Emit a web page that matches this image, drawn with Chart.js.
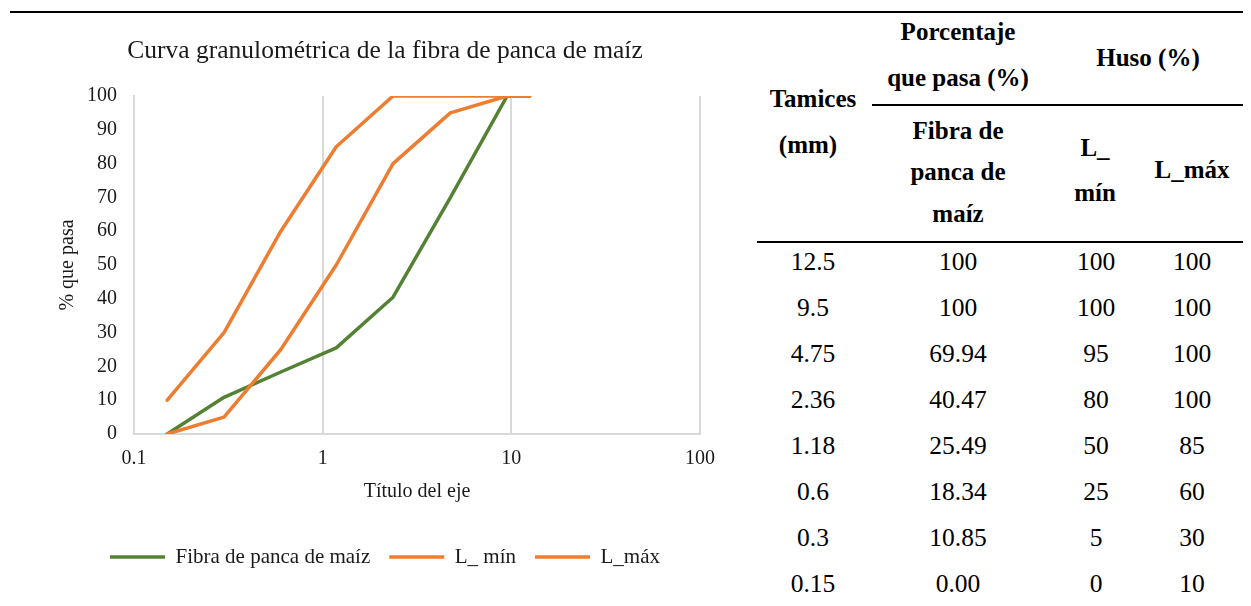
<!DOCTYPE html>
<html lang="es">
<head>
<meta charset="utf-8">
<title>Curva granulométrica de la fibra de panca de maíz</title>
<script src="https://cdn.jsdelivr.net/npm/chart.js@4/dist/chart.umd.min.js"></script>
<style>
  html, body { margin: 0; padding: 0; background: #fff; }
  body {
    width: 1251px; height: 606px; position: relative; overflow: hidden;
    font-family: "Liberation Serif", "Times New Roman", serif; color: #000;
  }
  #grafico { position: absolute; left: 0; top: 0; width: 745px; height: 606px; }
  .rule { position: absolute; height: 2px; background: #000; }
  .t { position: absolute; white-space: nowrap; line-height: 1; transform: translate(-50%, -50%); }
  .h { font-size: 25px; font-weight: bold; }
  .d { font-size: 25.5px; }
</style>
</head>
<body>
<div id="grafico"><canvas id="curva"></canvas></div>
<div id="tabla"></div>

<script>
// datos de la curva granulométrica
const tamices = [0.15, 0.3, 0.6, 1.18, 2.36, 4.75, 9.5, 12.5];
const fibra = [0, 10.85, 18.34, 25.49, 40.47, 69.94, 100, 100];
const lMin = [0, 5, 25, 50, 80, 95, 100, 100];
const lMax = [10, 30, 60, 85, 100, 100, 100, 100];
const xTicks = [0.1, 1, 10, 100];
const nombres = ["Fibra de panca de maíz", "L_ mín", "L_máx"];
const colores = ["#548235", "#ED7D31", "#ED7D31"];

const FUENTE = "'Liberation Serif', 'Times New Roman', serif";
const TEXTO = "#1a1a1a";

// tabla de la derecha
const tabla = document.getElementById("tabla");
function texto(cls, x, y, t) {
  const d = document.createElement("div");
  d.className = "t " + cls;
  d.style.left = x + "px";
  d.style.top = y + "px";
  d.textContent = t;
  tabla.appendChild(d);
}
function regla(x, y, w) {
  const d = document.createElement("div");
  d.className = "rule";
  d.style.left = x + "px";
  d.style.top = y + "px";
  d.style.width = w + "px";
  tabla.appendChild(d);
}

const colX = [813, 958, 1096, 1192];

regla(10, 11, 1233);
regla(872, 104, 371);
regla(757, 241, 486);

texto("h", 958, 31, "Porcentaje");
texto("h", 958, 77, "que pasa (%)");
texto("h", 1148, 57, "Huso (%)");
texto("h", 813, 98, "Tamices");
texto("h", 808, 144, "(mm)");
texto("h", 958, 130, "Fibra de");
texto("h", 958, 171, "panca de");
texto("h", 958, 213, "maíz");
texto("h", 1095, 147, "L_");
texto("h", 1095, 192, "mín");
texto("h", 1192, 169, "L_máx");

const fmtFibra = v => (v === 100 ? "100" : v.toFixed(2));
for (let k = 0; k < tamices.length; k++) {
  const i = tamices.length - 1 - k;
  const y = 262 + k * 46;
  texto("d", colX[0], y, String(tamices[i]));
  texto("d", colX[1], y, fmtFibra(fibra[i]));
  texto("d", colX[2], y, String(lMin[i]));
  texto("d", colX[3], y, String(lMax[i]));
}

// gráfico
const puntos = serie => tamices.map((t, i) => ({ x: t, y: serie[i] }));
const series = [fibra, lMin, lMax];

const ctx = document.getElementById("curva");
new Chart(ctx, {
  type: "scatter",
  data: {
    datasets: series.map((s, i) => ({
      label: nombres[i],
      data: puntos(s),
      showLine: true,
      borderColor: colores[i],
      backgroundColor: colores[i],
      borderWidth: 3.5,
      borderCapStyle: "round",
      borderJoinStyle: "round",
      pointRadius: 0,
      tension: 0,
      order: 3 - i
    }))
  },
  options: {
    responsive: true,
    maintainAspectRatio: false,
    animation: false,
    layout: { padding: { left: 25, right: 0, top: 0, bottom: 28.5 } },
    plugins: {
      title: {
        display: true,
        text: "Curva granulométrica de la fibra de panca de maíz",
        color: TEXTO,
        font: { family: FUENTE, size: 25.5, weight: "normal" },
        padding: { top: 35.7, bottom: 29.7 }
      },
      legend: {
        position: "bottom",
        labels: {
          usePointStyle: true,
          pointStyle: "line",
          pointStyleWidth: 55,
          padding: 19,
          color: TEXTO,
          font: { family: FUENTE, size: 21 },
          sort: (a, b) => a.datasetIndex - b.datasetIndex
        }
      },
      tooltip: { enabled: false }
    },
    scales: {
      x: {
        type: "logarithmic",
        min: 0.1,
        max: 100,
        afterBuildTicks: s => { s.ticks = xTicks.map(v => ({ value: v })); },
        afterFit: s => { s.height = 93.5; },
        ticks: {
          callback: v => String(v),
          autoSkip: false,
          maxRotation: 0,
          padding: 13,
          color: TEXTO,
          font: { family: FUENTE, size: 20 }
        },
        grid: { color: "#d9d9d9", lineWidth: 2, drawTicks: false },
        border: { color: "#d9d9d9", width: 2 },
        title: {
          display: true,
          text: "Título del eje",
          color: TEXTO,
          font: { family: FUENTE, size: 20 },
          padding: { top: 0, bottom: 23.5 }
        }
      },
      y: {
        min: 0,
        max: 100,
        afterFit: s => { s.width = 109; },
        ticks: {
          stepSize: 10,
          padding: 17,
          color: TEXTO,
          font: { family: FUENTE, size: 20 }
        },
        grid: { display: false, drawTicks: false },
        border: { color: "#d9d9d9", width: 2 },
        title: {
          display: true,
          text: "% que pasa",
          color: TEXTO,
          font: { family: FUENTE, size: 20 },
          padding: { top: 31, bottom: 0 }
        }
      },
      yR: {
        position: "right",
        display: true,
        afterFit: s => { s.width = 45; },
        ticks: { display: false },
        grid: { display: false, drawTicks: false },
        border: { display: false }
      }
    }
  }
});
</script>
</body>
</html>
